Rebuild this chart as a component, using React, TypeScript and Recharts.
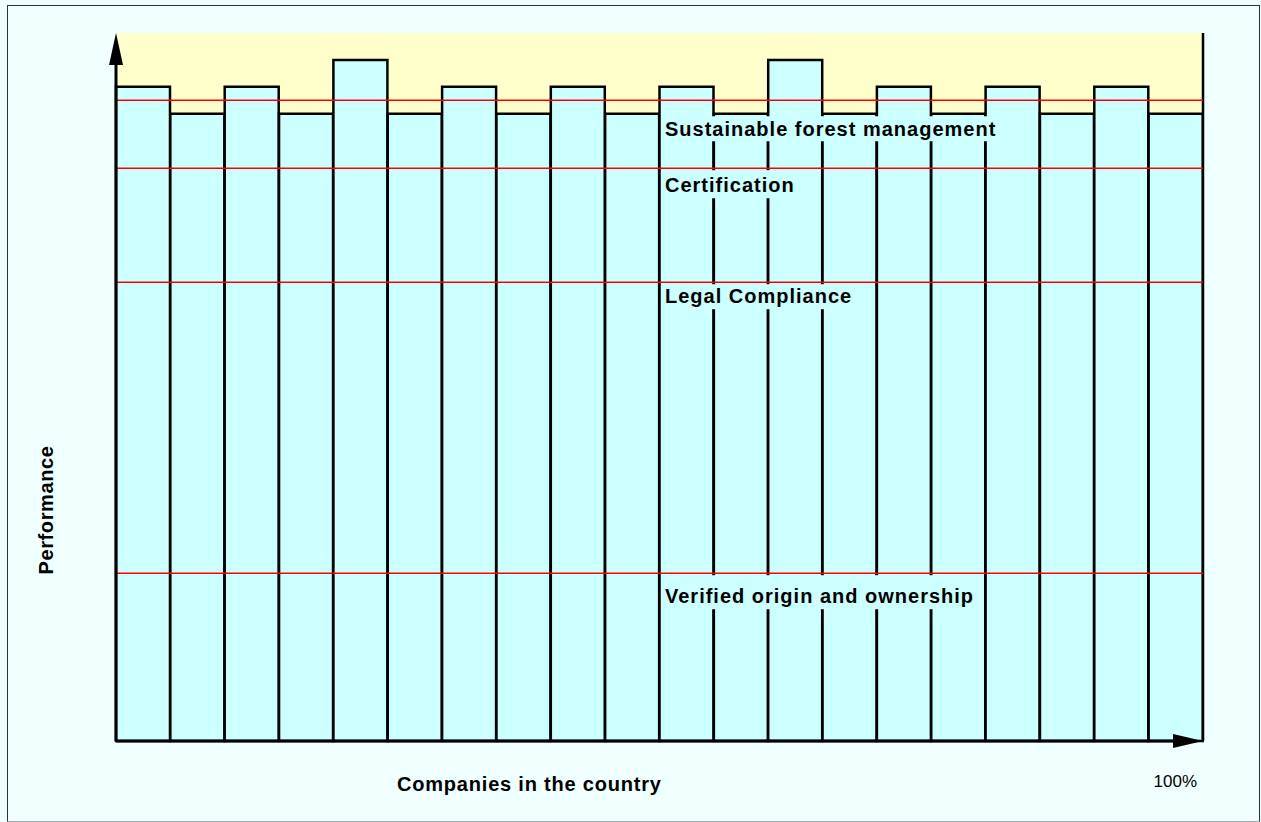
import React from 'react';
import { BarChart, Bar, XAxis, YAxis, ReferenceLine, ReferenceArea } from 'recharts';

// ---- data ----
const companies = [
  'C01', 'C02', 'C03', 'C04', 'C05', 'C06', 'C07', 'C08', 'C09', 'C10',
  'C11', 'C12', 'C13', 'C14', 'C15', 'C16', 'C17', 'C18', 'C19', 'C20',
];
const performance = [
  92.4, 88.6, 92.4, 88.6, 96.2, 88.6, 92.4, 88.6, 92.4, 88.6,
  92.4, 88.6, 96.2, 88.6, 92.4, 88.6, 92.4, 88.6, 92.4, 88.6,
];
const levelNames = [
  'Sustainable forest management',
  'Certification',
  'Legal Compliance',
  'Verified origin and ownership',
];
const levelValues = [90.5, 80.9, 64.8, 23.7];
const yDomain: [number, number] = [0, 100];
const xTitle = 'Companies in the country';
const yTitle = 'Performance';
const xEndLabel = '100%';

const data = companies.map((c, i) => ({ company: c, performance: performance[i] }));

// ---- styles (label boxes relative to their line) ----
const labelBoxes = [
  { top: 16, height: 25, width: 338, baseline: 36 },
  { top: 2, height: 28, width: 135, baseline: 24 },
  { top: 2, height: 25, width: 195, baseline: 20.5 },
  { top: 2, height: 34, width: 318, baseline: 30 },
];
const FONT = '"Liberation Sans", Arial, Helvetica, sans-serif';
const BAR_FILL = '#ccffff';
const PLOT_BG = '#ffffcc';
const LS = 1.0;

const W = 1261;
const H = 822;

const makeLabel = (i: number) => (props: any) => {
  const vb = props.viewBox || {};
  const x0 = (vb.x ?? 0) + 546;
  const y0 = vb.y ?? 0;
  const b = labelBoxes[i];
  return (
    <g>
      <rect x={x0} y={y0 + b.top} width={b.width} height={b.height} fill={BAR_FILL} />
      <text
        x={x0 + 3}
        y={y0 + b.baseline}
        fontFamily={FONT}
        fontWeight="bold"
        fontSize={20}
        letterSpacing={LS}
        fill="#000"
      >
        {levelNames[i]}
      </text>
    </g>
  );
};

const Background = (props: any) => {
  const { x, y, width, height } = props;
  return (
    <g>
      <rect x={x} y={y} width={width} height={height} fill={PLOT_BG} />
      <line x1={x + width} y1={y} x2={x + width} y2={y + height} stroke="#000" strokeWidth={2.5} />
    </g>
  );
};

const AxisOverlay = (props: any) => {
  const { x, y, width, height } = props;
  const bottom = y + height;
  const right = x + width;
  return (
    <g>
      <line x1={x} y1={bottom} x2={x} y2={y + 10} stroke="#000" strokeWidth={3} />
      <line x1={x} y1={bottom} x2={right - 10} y2={bottom} stroke="#000" strokeWidth={3} />
      <polygon points={`${x},${y} ${x - 7},${y + 32} ${x + 7},${y + 32}`} fill="#000" />
      <polygon points={`${right},${bottom} ${right - 30},${bottom - 7} ${right - 30},${bottom + 7}`} fill="#000" />
      <text
        x={x + 281}
        y={bottom + 50}
        fontFamily={FONT}
        fontWeight="bold"
        fontSize={20}
        letterSpacing={0.8}
        fill="#000"
      >
        {xTitle}
      </text>
      <text x={right - 6} y={bottom + 46} fontFamily={FONT} fontSize={17} textAnchor="end" fill="#000">
        {xEndLabel}
      </text>
      <text
        x={x - 63}
        y={y + 477}
        transform={`rotate(-90 ${x - 63} ${y + 477})`}
        fontFamily={FONT}
        fontWeight="bold"
        fontSize={20}
        letterSpacing={0.6}
        textAnchor="middle"
        fill="#000"
      >
        {yTitle}
      </text>
    </g>
  );
};

export default function App() {
  return (
    <div style={{ position: 'absolute', left: 0, top: 0, width: W, height: H, background: '#f0ffff' }}>
      <div
        style={{
          position: 'absolute',
          left: 7,
          top: 5,
          width: 1251,
          height: 815,
          borderLeft: '1.5px solid #333',
          borderTop: '1.5px solid #333',
          borderRight: '1.5px solid #333',
          borderBottom: '1.5px solid #aaa',
        }}
      />
      <div style={{ position: 'absolute', left: 0, top: 0 }}>
        <BarChart
          width={W}
          height={H}
          data={data}
          margin={{ top: 33, right: 58, bottom: 0, left: 0 }}
          barCategoryGap={0}
          barGap={0}
        >
          <XAxis dataKey="company" tick={false} tickLine={false} axisLine={false} height={81} />
          <YAxis domain={yDomain} tick={false} tickLine={false} axisLine={false} width={116} />
          <ReferenceArea y1={yDomain[0]} y2={yDomain[1]} shape={Background} zIndex={-50} ifOverflow="visible" />
          <Bar
            dataKey="performance"
            fill={BAR_FILL}
            stroke="#000"
            strokeWidth={2.5}
            isAnimationActive={false}
          />
          {levelValues.map((v, i) => (
            <ReferenceLine
              key={levelNames[i]}
              y={v}
              stroke="#ff0000"
              strokeWidth={1.5}
              label={makeLabel(i)}
              zIndex={450}
            />
          ))}
          <ReferenceArea y1={yDomain[0]} y2={yDomain[1]} shape={AxisOverlay} zIndex={1500} ifOverflow="visible" />
        </BarChart>
      </div>
    </div>
  );
}
